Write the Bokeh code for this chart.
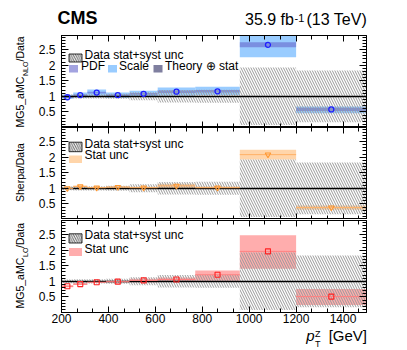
import numpy as np
from bokeh.plotting import figure
from bokeh.layouts import column, row
from bokeh.models import FixedTicker, LinearAxis, Label, Range1d, CustomJSTickFormatter
from bokeh.embed import file_html
from bokeh.resources import INLINE

# ---------------- data ----------------
bin_edges = [200, 250, 310, 390, 490, 610, 770, 960, 1200, 1500]
# data stat+syst uncertainty (relative, symmetric half width)
data_unc = [0.06, 0.07, 0.07, 0.08, 0.13, 0.20, 0.21, 0.92, 0.83]

# MG5_aMC NLO / Data
nlo_ratio = [0.97, 1.04, 1.12, 1.04, 1.08, 1.15, 1.16, 2.65, 0.58]
nlo_scale_lo = [0.92, 0.96, 1.02, 0.95, 0.98, 1.03, 1.04, 2.25, 0.46]
nlo_scale_hi = [1.05, 1.12, 1.22, 1.12, 1.18, 1.28, 1.31, 3.10, 0.67]
nlo_pdf_lo = [0.95, 1.02, 1.09, 1.02, 1.05, 1.11, 1.12, 2.57, 0.53]
nlo_pdf_hi = [0.99, 1.06, 1.15, 1.06, 1.11, 1.19, 1.20, 2.73, 0.63]

# Sherpa / Data
sherpa_ratio = [1.00, 1.06, 1.02, 1.04, 1.02, 1.08, 1.02, 2.08, 0.38]
sherpa_stat = [0.02, 0.03, 0.02, 0.03, 0.03, 0.07, 0.04, 0.16, 0.07]

# MG5_aMC LO / Data
lo_ratio = [0.84, 0.91, 0.97, 0.99, 1.03, 1.06, 1.21, 1.96, 0.51]
lo_stat_lo = [0.81, 0.88, 0.95, 0.96, 0.97, 1.00, 1.02, 1.40, 0.24]
lo_stat_hi = [0.87, 0.94, 0.99, 1.02, 1.08, 1.12, 1.35, 2.48, 0.75]

x_major_ticks = [200, 400, 600, 800, 1000, 1200, 1400]
y_major_ticks = [0.5, 1.0, 1.5, 2.0, 2.5]

# ---------------- derived ----------------
edges = np.array(bin_edges, float)
left = edges[:-1]
right = edges[1:]
centers = 0.5 * (left + right)
unc = np.array(data_unc)
s_ratio = np.array(sherpa_ratio)
s_stat = np.array(sherpa_stat)

X0, X1 = 200.0, 1500.0
Y0, Y1 = 0.0, 2.95
FRAME_L, FRAME_W, FRAME_H = 61, 305, 92   # page px
FONT = "Liberation Sans"

SCALE_C = "#99ccff"
PDF_C = "#6666cc"
THEO_C = "#7f7f9f"
PEACH_C = "#ffd5aa"
PINK_C = "#ff9999"
HATCH_C = "#9a9a9a"


def xd(px):
    return X0 + (px - FRAME_L) * (X1 - X0) / FRAME_W


def yd(py, fb):
    return Y0 + (fb - py) * (Y1 - Y0) / FRAME_H


x_range = Range1d(X0, X1)
fmt = CustomJSTickFormatter(code="return tick.toString();")
blank_fmt = CustomJSTickFormatter(code="return '';")
xticker = FixedTicker(ticks=x_major_ticks,
                      minor_ticks=[float(v) for v in np.arange(200, 1500.1, 200 / 3)])
yticker = FixedTicker(ticks=y_major_ticks,
                      minor_ticks=[round(0.1 * i, 1) for i in range(0, 30)])


def make_axis(ticker, labels, major, minor, standoff):
    ax = LinearAxis(ticker=ticker, formatter=fmt if labels else blank_fmt, axis_label=None)
    ax.axis_line_color = "black"
    ax.axis_line_width = 1
    ax.major_tick_in = major
    ax.major_tick_out = 0
    ax.minor_tick_in = minor
    ax.minor_tick_out = 0
    ax.major_tick_line_color = "black"
    ax.minor_tick_line_color = "black"
    if labels:
        ax.major_label_text_font = FONT
        ax.major_label_text_font_size = "12px"
        ax.major_label_text_color = "black"
        ax.major_label_standoff = standoff
    else:
        ax.major_label_text_font_size = "0px"
        ax.major_label_standoff = 0
    return ax


def make_fig(height, border_top, border_bottom, show_xlabels):
    p = figure(width=358, height=height,
               x_range=x_range, y_range=Range1d(Y0, Y1),
               min_border_left=31, min_border_right=22,
               min_border_top=border_top, min_border_bottom=border_bottom,
               x_axis_location=None, y_axis_location=None,
               output_backend="svg", toolbar_location=None, tools="",
               background_fill_color="white", border_fill_color="white")
    p.grid.visible = False
    p.outline_line_color = "black"
    p.outline_line_width = 1
    p.add_layout(make_axis(xticker, show_xlabels, 6, 4, 1), "below")
    p.add_layout(make_axis(xticker, False, 6, 4, 0), "above")
    p.add_layout(make_axis(yticker, True, 7, 4, 6), "left")
    p.add_layout(make_axis(yticker, False, 7, 4, 0), "right")
    return p


def text_fig(w, h):
    f = figure(width=w, height=h, x_range=Range1d(0, w), y_range=Range1d(0, h),
               min_border=0, x_axis_location=None, y_axis_location=None,
               output_backend="svg", toolbar_location=None, tools="",
               outline_line_color=None, background_fill_color="white",
               border_fill_color="white")
    f.grid.visible = False
    return f


def add_hatch(p):
    p.quad(left=left, right=right, bottom=1 - unc, top=1 + unc,
           fill_color=None, line_color=None,
           hatch_pattern="\\", hatch_color=HATCH_C, hatch_scale=5, hatch_weight=1)


def txt(p, x, y, text, size="12px", **kw):
    p.add_layout(Label(x=x, y=y, text=text, text_font=FONT, text_font_size=size,
                       text_color="black", **kw))


def legend_box(p, x0, x1, y0, y1, fb, **kw):
    p.quad(left=[xd(x0)], right=[xd(x1)], top=[yd(y0, fb)], bottom=[yd(y1, fb)], **kw)


def hatch_legend(p, y0, y1, fb):
    legend_box(p, 68.5, 81.5, y0, y1, fb, fill_color=None, line_color="black",
               line_width=0.8, hatch_pattern="\\", hatch_color="#666666",
               hatch_scale=4.5, hatch_weight=1)


# ---------------- header (page y 0..35) ----------------
hdr = text_fig(388, 35)
HY = lambda py: 35 - py
txt(hdr, 57, HY(27), "CMS", size="18px", text_font_style="bold")
txt(hdr, 366.5, HY(27), "(13 TeV)", size="16px", text_align="right")
txt(hdr, 294, HY(21), "-1", size="11px")
txt(hdr, 244.5, HY(27), "35.9 fb", size="16px")

# ---------------- top panel: MG5_aMC NLO (frame page y 35..127) ----------------
FB1 = 127
p1 = make_fig(92, 0, 0, False)
p1.quad(left=left, right=right, bottom=nlo_scale_lo, top=nlo_scale_hi,
        fill_color=SCALE_C, line_color=None)
p1.quad(left=left, right=right, bottom=nlo_pdf_lo, top=nlo_pdf_hi,
        fill_color=PDF_C, fill_alpha=0.6, line_color=None)
add_hatch(p1)
p1.hspan(y=[1.0], line_color="black", line_width=1.5)
p1.scatter(x=centers, y=nlo_ratio, marker="circle", size=5, fill_color=None,
           line_color="#1f1fff", line_width=1.3)

hatch_legend(p1, 53.5, 61.5, FB1)
txt(p1, xd(84), yd(61, FB1), "Data stat+syst unc")
legend_box(p1, 68.5, 77.5, 64.5, 72, FB1, fill_color=PDF_C, fill_alpha=0.6, line_color=None)
txt(p1, xd(80.5), yd(72.5, FB1), "PDF")
legend_box(p1, 107.5, 116.5, 64.5, 72, FB1, fill_color=SCALE_C, line_color=None)
txt(p1, xd(118.5), yd(72.5, FB1), "Scale")
legend_box(p1, 153, 162, 64.5, 72, FB1, fill_color=THEO_C, line_color=None)
txt(p1, xd(164.5), yd(72.5, FB1), "Theory \u2295 stat")

# ---------------- middle panel: Sherpa (frame page y 127..219) ----------------
FB2 = 219
p2 = make_fig(92, 0, 0, False)
p2.quad(left=left, right=right, bottom=s_ratio - s_stat, top=s_ratio + s_stat,
        fill_color=PEACH_C, line_color=None)
add_hatch(p2)
p2.hspan(y=[1.0], line_color="black", line_width=1.5)
p2.segment(x0=left, x1=right, y0=s_ratio, y1=s_ratio, line_color="#ffb066", line_width=1)
p2.scatter(x=centers, y=sherpa_ratio, marker="inverted_triangle", size=5.5,
           fill_color=None, line_color="#ff9933", line_width=1.1)

hatch_legend(p2, 141.7, 151.2, FB2)
txt(p2, xd(84), yd(150.5, FB2), "Data stat+syst unc")
legend_box(p2, 68.5, 81.5, 155, 162.5, FB2, fill_color=PEACH_C, line_color=None)
txt(p2, xd(84), yd(161.5, FB2), "Stat unc")

# ---------------- bottom panel: MG5_aMC LO (frame page y 220..312) ----------------
FB3 = 312
p3 = make_fig(109, 1, 16, True)
p3.quad(left=left, right=right, bottom=lo_stat_lo, top=lo_stat_hi,
        fill_color=PINK_C, fill_alpha=0.8, line_color=None)
add_hatch(p3)
p3.hspan(y=[1.0], line_color="black", line_width=1.5)
p3.segment(x0=left, x1=right, y0=lo_ratio, y1=lo_ratio, line_color="#ff8080", line_width=1)
p3.scatter(x=centers, y=lo_ratio, marker="square", size=5, fill_color=None,
           line_color="#ff2222", line_width=1.1)

hatch_legend(p3, 233.3, 242.5, FB3)
txt(p3, xd(84), yd(241.5, FB3), "Data stat+syst unc")
legend_box(p3, 68.5, 81.5, 247.5, 255.5, FB3, fill_color=PINK_C, fill_alpha=0.8, line_color=None)
txt(p3, xd(84), yd(255, FB3), "Stat unc")

# ---------------- y titles (page x 0..30, page y 35..328) ----------------
yl = text_fig(30, 293)
LY = lambda py: 328 - py
R = np.pi / 2
txt(yl, 25.5, LY(127), "MG5_aMC", size="10.5px", angle=R)
txt(yl, 28.0, LY(75.5), "NLO", size="7px", angle=R)
txt(yl, 25.5, LY(61.0), "/Data", size="10.5px", angle=R)
txt(yl, 25.5, LY(201.5), "Sherpa/Data", size="10.5px", angle=R)
txt(yl, 25.5, LY(308), "MG5_aMC", size="10.5px", angle=R)
txt(yl, 28.0, LY(256.5), "LO", size="7px", angle=R)
txt(yl, 25.5, LY(247.5), "/Data", size="10.5px", angle=R)

# ---------------- x title (page y 328..350) ----------------
ft = text_fig(388, 22)
FY = lambda py: 350 - py
txt(ft, 366.5, FY(343), "[GeV]", size="15px", text_align="right")
txt(ft, 314, FY(343), "p", size="15px", text_align="right", text_font_style="italic")
txt(ft, 314.5, FY(338), "Z", size="9px")
txt(ft, 314.5, FY(348), "T", size="9px")

layout = column(hdr, row(yl, column(p1, p2, p3, spacing=0), spacing=0), ft, spacing=0)
open("out.html", "w").write(file_html(layout, INLINE))
